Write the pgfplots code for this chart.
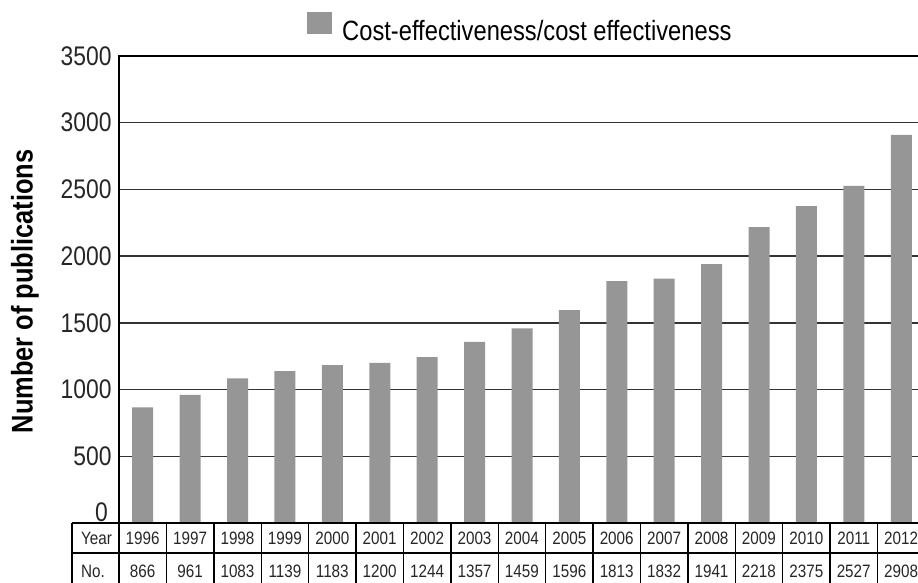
\documentclass[border=0pt]{standalone}
\usepackage{pgfplots}
\pgfplotsset{compat=1.18}
\usepackage{fontspec}
\setmainfont{Liberation Sans}[FakeStretch=0.85]

\definecolor{bargray}{HTML}{969696}
\definecolor{gridgray}{HTML}{333333}

\begin{document}
\begin{tikzpicture}[x=1bp,y=1bp]
\path[use as bounding box] (0,0) rectangle (918,583);
\begin{axis}[
    at={(119bp,60bp)}, anchor=south west,
    scale only axis,
    width=806bp, height=467bp,
    ymin=0, ymax=3500,
    xmin=-0.5, xmax=16.5,
    ytick={500,1000,...,3500},
    xtick=\empty,
    ybar, bar width=21bp,
    ymajorgrids,
    grid style={draw=gridgray, line width=1.5bp},
    axis line style={line width=1.5bp, black},
    major tick length=0pt,
    /pgf/number format/assume math mode=true,
    /pgf/number format/1000 sep={},
    yticklabel style={font=\fontsize{27}{27}\selectfont, color=black!85, xshift=-4bp},
    ylabel={Number of publications},
    every axis y label/.style={at={(rel axis cs:0,0.5)}, xshift=-94bp, yshift=-2bp,
      rotate=90, anchor=center, font=\bfseries\fontsize{30}{30}\selectfont},
    legend style={at={(axis description cs:0.2333,1.06)}, anchor=west,
      draw=none, fill=none, inner sep=0pt,
      font=\fontsize{28}{28}\selectfont,
      /tikz/every odd column/.style={column sep=8bp}},
    legend image code/.code={\fill[bargray] (0bp,-2bp) rectangle (25bp,20bp);},
  ]
  \addplot[fill=bargray, draw=none] coordinates {
    (0,866) (1,961) (2,1083) (3,1139) (4,1183) (5,1200) (6,1244)
    (7,1357) (8,1459) (9,1596) (10,1813) (11,1832) (12,1941)
    (13,2218) (14,2375) (15,2527) (16,2908)
  };
  \addlegendentry{Cost-effectiveness/cost effectiveness}
\end{axis}

% zero label sits above the table
\node[anchor=east, inner sep=0pt, font=\fontsize{27}{27}\selectfont, text=black!85] at (108,71) {0};

% data table under the axis
\draw[line width=1.4bp] (72,60) -- (930,60);
\draw[line width=1.4bp] (72,30) -- (930,30);
\draw[line width=1.4bp] (72,0) -- (72,60);
\foreach \k in {0,...,17} {
  \draw[line width=1.4bp] ({119+47.4*\k},0) -- ({119+47.4*\k},60);
}
\begin{scope}[every node/.style={font=\fontsize{18}{18}\selectfont, text=black!85}]
  \node[anchor=west, inner sep=0pt] at (81,44.5) {Year};
  \node[anchor=west, inner sep=0pt] at (81,11.5) {No.};
  \foreach \yr/\n [count=\k from 0] in {1996/866,1997/961,1998/1083,1999/1139,
      2000/1183,2001/1200,2002/1244,2003/1357,2004/1459,2005/1596,2006/1813,
      2007/1832,2008/1941,2009/2218,2010/2375,2011/2527,2012/2908} {
    \node at ({119+47.4*(\k+0.5)},44.5) {\yr};
    \node at ({119+47.4*(\k+0.5)},11.5) {\n};
  }
\end{scope}
\end{tikzpicture}
\end{document}
